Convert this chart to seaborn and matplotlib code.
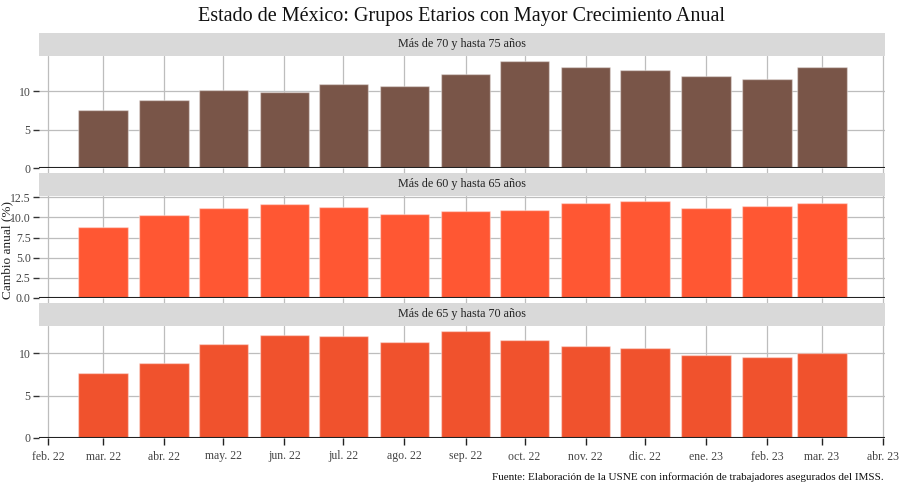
import pandas as pd
import seaborn as sns
import matplotlib.pyplot as plt
import matplotlib.dates as mdates
from matplotlib.ticker import FixedLocator

# Data (annual change, %)
fechas = pd.date_range('2022-03-01', '2023-03-01', freq='MS')
grupos = ['Más de 70 y hasta 75 años', 'Más de 60 y hasta 65 años', 'Más de 65 y hasta 70 años']
valores_70_75 = [7.6, 8.8, 10.2, 9.95, 11.0, 10.7, 12.3, 13.9, 13.1, 12.8, 11.95, 11.55, 13.1]
valores_60_65 = [8.8, 10.25, 11.2, 11.7, 11.25, 10.45, 10.8, 10.95, 11.75, 12.05, 11.2, 11.4, 11.8]
valores_65_70 = [7.65, 8.85, 11.05, 12.2, 12.05, 11.3, 12.6, 11.6, 10.85, 10.6, 9.8, 9.6, 10.05]
colores = ['#795548', '#FF5733', '#F0522D']
meses_es = ['ene.', 'feb.', 'mar.', 'abr.', 'may.', 'jun.', 'jul.', 'ago.', 'sep.', 'oct.', 'nov.', 'dic.']

df = pd.DataFrame({
    'fecha': list(fechas) * 3,
    'grupo': [g for g in grupos for _ in fechas],
    'valor': valores_70_75 + valores_60_65 + valores_65_70,
})
df['x'] = mdates.date2num(df['fecha'])

sns.set_style('whitegrid')
plt.rcParams['font.family'] = ['Liberation Serif', 'DejaVu Serif']

W, H = 904, 492
fig = plt.figure(figsize=(W / 100, H / 100), dpi=100)

# panel layout in pixels: (strip top, plot top, plot bottom)
paneles = [(33, 56, 168), (173, 196, 298), (303, 326, 438)]
left, right = 39, 885

ticks = pd.date_range('2022-02-01', '2023-04-01', freq='MS')
tick_x = mdates.date2num(ticks)
tick_lab = [f'{meses_es[t.month - 1]} {t.strftime("%y")}' for t in ticks]
xmin, xmax = tick_x[0] - 4.6, tick_x[-1] + 1.0

for i, (grupo, color, (s_top, p_top, p_bot)) in enumerate(zip(grupos, colores, paneles)):
    ax = fig.add_axes([left / W, 1 - p_bot / H, (right - left) / W, (p_bot - p_top) / H])
    sub = df[df['grupo'] == grupo]
    sns.barplot(data=sub, x='x', y='valor', native_scale=True, color=color,
                width=0.9, errorbar=None, saturation=1,
                edgecolor=(1, 1, 1, 0.4), linewidth=1, ax=ax)
    ax.set_xlim(xmin, xmax)
    ax.set_ylim(0, sub['valor'].max() * 1.05)
    ax.xaxis.set_major_locator(FixedLocator(tick_x))
    if i == 1:
        ax.set_yticks([0, 2.5, 5, 7.5, 10, 12.5])
        ax.set_yticklabels(['0.0', '2.5', '5.0', '7.5', '10.0', '12.5'])
    else:
        ax.set_yticks([0, 5, 10])
        ax.set_yticklabels(['0', '5', '10'])
    ax.grid(True, color='#bdbdbd', linewidth=0.9)
    ax.set_axisbelow(True)
    for sp in ax.spines.values():
        sp.set_visible(False)
    ax.axhline(0, color='#222222', linewidth=1.5, zorder=5)
    ax.tick_params(axis='y', left=True, length=4, width=1, color='#333333',
                   labelsize=8.5, labelcolor='#444444', pad=2)
    if i == 2:
        ax.set_xticklabels(tick_lab)
        ax.tick_params(axis='x', bottom=True, length=5, width=1, color='#222222',
                       labelsize=8.5, labelcolor='#444444', pad=4)
    else:
        ax.set_xticklabels([])
        ax.tick_params(axis='x', bottom=True, length=5, width=0.9, color='#bdbdbd')
    ax.set_xlabel('')
    ax.set_ylabel('')

    # facet strip
    sax = fig.add_axes([left / W, 1 - p_top / H, (right - left) / W, (p_top - s_top) / H])
    sax.set_facecolor('#d9d9d9')
    sax.set_xticks([])
    sax.set_yticks([])
    for sp in sax.spines.values():
        sp.set_visible(False)
    sax.text(0.5, 0.5, grupo, ha='center', va='center', fontsize=8.7,
             color='#222222', transform=sax.transAxes)

fig.text(462 / W, 1 - 17 / H, 'Estado de México: Grupos Etarios con Mayor Crecimiento Anual',
         ha='center', va='center', fontsize=14.5, color='#111111')
fig.text(7 / W, 1 - 250 / H, 'Cambio anual (%)', rotation=90, ha='center', va='center',
         fontsize=9.5, color='#222222')
fig.text(884 / W, 1 - 477 / H,
         'Fuente: Elaboración de la USNE con información de trabajadores asegurados del IMSS.',
         ha='right', va='center', fontsize=8, color='#111111')

plt.savefig('out.png', dpi=100)
